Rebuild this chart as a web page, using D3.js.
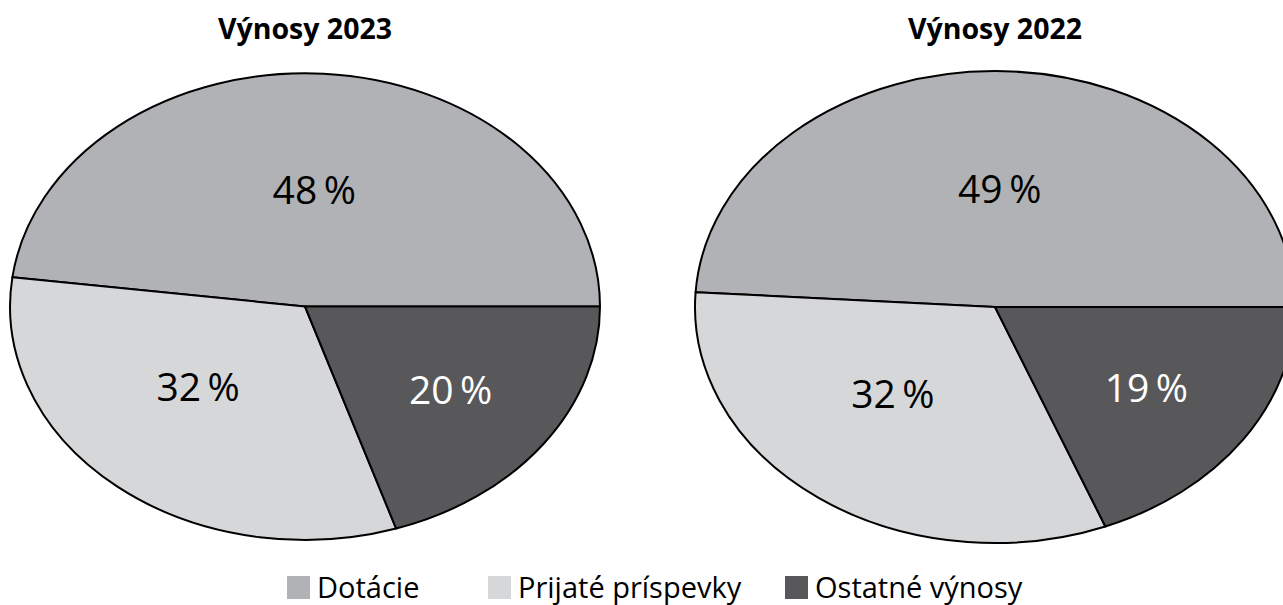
<!DOCTYPE html>
<html>
<head>
<meta charset="utf-8">
<script src="https://cdn.jsdelivr.net/npm/d3@7"></script>
<style>
  html, body { margin: 0; padding: 0; background: #fff; }
  svg { display: block; }
  text { font-family: "Open Sans", "Noto Sans", sans-serif; font-stretch: 90%; }
</style>
</head>
<body>
<svg id="chart" width="1283" height="605"></svg>
<script>
// ---- data ----
const categories = ["Dotácie", "Prijaté príspevky", "Ostatné výnosy"];
const chartTitles = ["Výnosy 2023", "Výnosy 2022"];
const values2023 = [48, 32, 20];
const values2022 = [49, 32, 19];

// ---- style ----
const colors = ["#b1b2b5", "#d6d7d9", "#58585a"];
const labelColors = ["#000", "#000", "#fff"];
const labelRadius = [0.5, 0.5, 0.61];
const labelAngleShift = [0, 0.12, 0];
const pies = [
  { title: chartTitles[0], values: values2023, cx: 305, cy: 306.5, rx: 295, ry: 233.5 },
  { title: chartTitles[1], values: values2022, cx: 995, cy: 307, rx: 300, ry: 236 }
];
const legendX = [287, 488, 785];

const svg = d3.select("#chart");
const color = d3.scaleOrdinal().domain(categories).range(colors);

const pie = d3.pie().sort(null).value(d => d.v)
  .startAngle(Math.PI / 2)
  .endAngle(Math.PI / 2 - 2 * Math.PI);
const arc = d3.arc().innerRadius(0).outerRadius(1);

pies.forEach(p => {
  const arcs = pie(p.values.map((v, i) => ({ cat: categories[i], v, i })));

  const g = svg.append("g")
    .attr("transform", `translate(${p.cx},${p.cy}) scale(${p.rx},${p.ry})`);
  g.selectAll("path").data(arcs).join("path")
    .attr("d", arc)
    .attr("fill", d => color(d.data.cat))
    .attr("stroke", "#000")
    .attr("stroke-width", 2)
    .attr("stroke-linejoin", "round")
    .attr("vector-effect", "non-scaling-stroke");

  const pos = d => {
    const r = labelRadius[d.data.i];
    const s = labelAngleShift[d.data.i];
    const c = d3.arc().innerRadius(r).outerRadius(r)
      .centroid({ startAngle: d.startAngle + s, endAngle: d.endAngle + s });
    return [c[0] * p.rx, c[1] * p.ry];
  };
  const lg = svg.append("g").attr("transform", `translate(${p.cx},${p.cy})`);
  lg.selectAll("text").data(arcs).join("text")
    .attr("x", d => pos(d)[0])
    .attr("y", d => pos(d)[1])
    .attr("dy", "0.36em")
    .attr("text-anchor", "middle")
    .attr("font-size", 39)
    .attr("fill", d => labelColors[d.data.i])
    .text(d => d.data.v + "\u2009%");

  svg.append("text")
    .attr("x", p.cx)
    .attr("y", 39)
    .attr("text-anchor", "middle")
    .attr("font-size", 28.5)
    .attr("font-weight", 700)
    .attr("fill", "#000")
    .text(p.title);
});

// legend
const leg = svg.append("g");
const items = leg.selectAll("g").data(categories).join("g")
  .attr("transform", (d, i) => `translate(${legendX[i]},576)`);
items.append("rect")
  .attr("width", 23).attr("height", 23)
  .attr("fill", d => color(d));
items.append("text")
  .attr("x", 30).attr("y", 22)
  .attr("font-size", 29)
  .attr("fill", "#000")
  .text(d => d);
</script>
</body>
</html>
